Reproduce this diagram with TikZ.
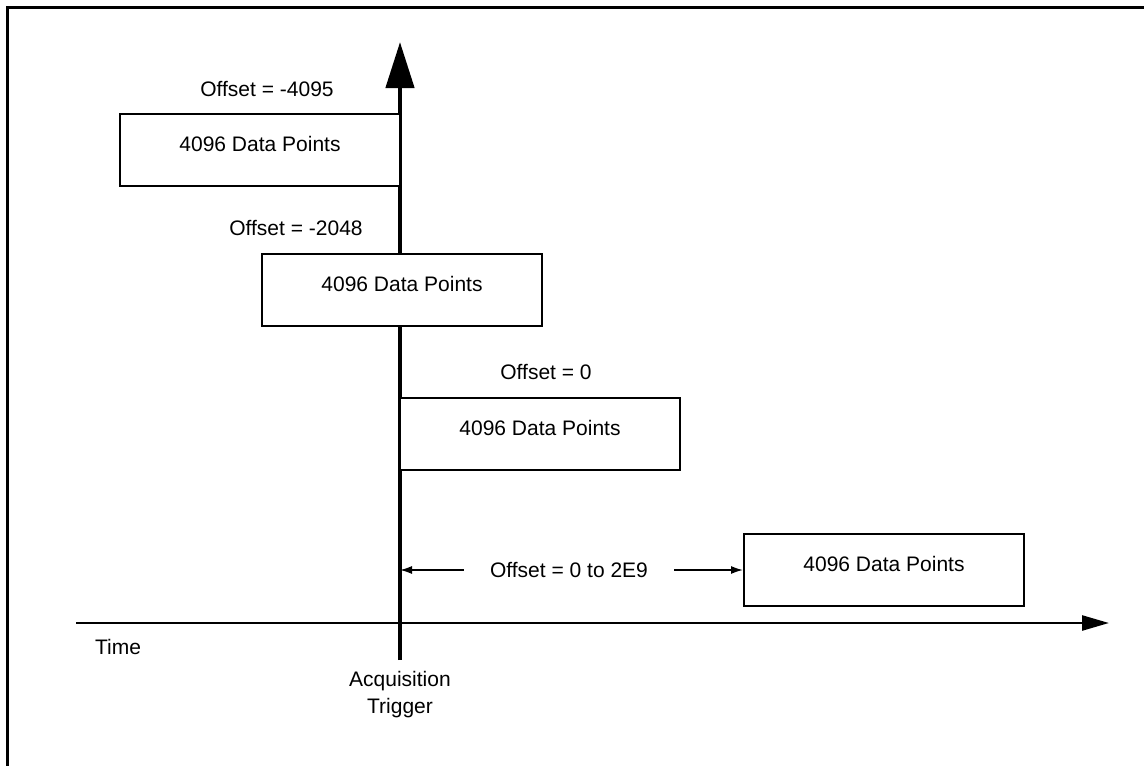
\documentclass[tikz,border=0pt]{standalone}
\usepackage{fontspec}
\setmainfont{Liberation Sans}
\usetikzlibrary{arrows.meta}

\begin{document}
\begin{tikzpicture}[x=1pt, y=-1pt, font=\fontsize{21}{27}\selectfont]
\tikzstyle{box} = [draw=black, fill=white, line width=2pt, minimum width=280pt, minimum height=72pt, inner sep=0pt, text height=15pt, text depth=12pt]
\tikzstyle{lbl} = [inner sep=0pt]
\tikzstyle{trig} = [draw=black, line width=4.5pt, -{Triangle[length=46pt, width=28pt]}]
\tikzstyle{time} = [draw=black, line width=2.5pt, -{Triangle[length=27pt, width=15pt]}]
\tikzstyle{sm} = [draw=black, line width=1.5pt, -{Latex[length=12pt, width=8pt]}]

\useasboundingbox (0,0) rectangle (1144,766);
\draw[line width=3pt] (1144,7) -- (7,7) -- (7,766);

% axes
\coordinate (trigbot) at (400,660);
\coordinate (trigtop) at (400,42);
\coordinate (t0) at (76,623);
\coordinate (t1) at (1109,623);
\draw[time] (t0) to (t1);
\draw[trig] (trigbot) to (trigtop);

\node[lbl](tm) at (118,647) {Time};
\node[lbl, align=center](acq) at (400,695) {Acquisition\\Trigger};

% data windows
\node[lbl](o1) at (267,89) {Offset = -4095};
\node[box](b1) at (260,150) {4096 Data Points};
\node[lbl](o2) at (296,228) {Offset = -2048};
\node[box](b2) at (402,290) {4096 Data Points};
\node[lbl](o3) at (546,372) {Offset = 0};
\node[box](b3) at (540,434) {4096 Data Points};
\node[box](b4) at (884,570) {4096 Data Points};

\node[lbl, inner xsep=26pt](rng) at (569,570) {Offset = 0 to 2E9};
\draw[sm] (rng.west) to (rng.west -| trigtop);
\draw[sm] (rng.east) to (b4.west);
\end{tikzpicture}
\end{document}
